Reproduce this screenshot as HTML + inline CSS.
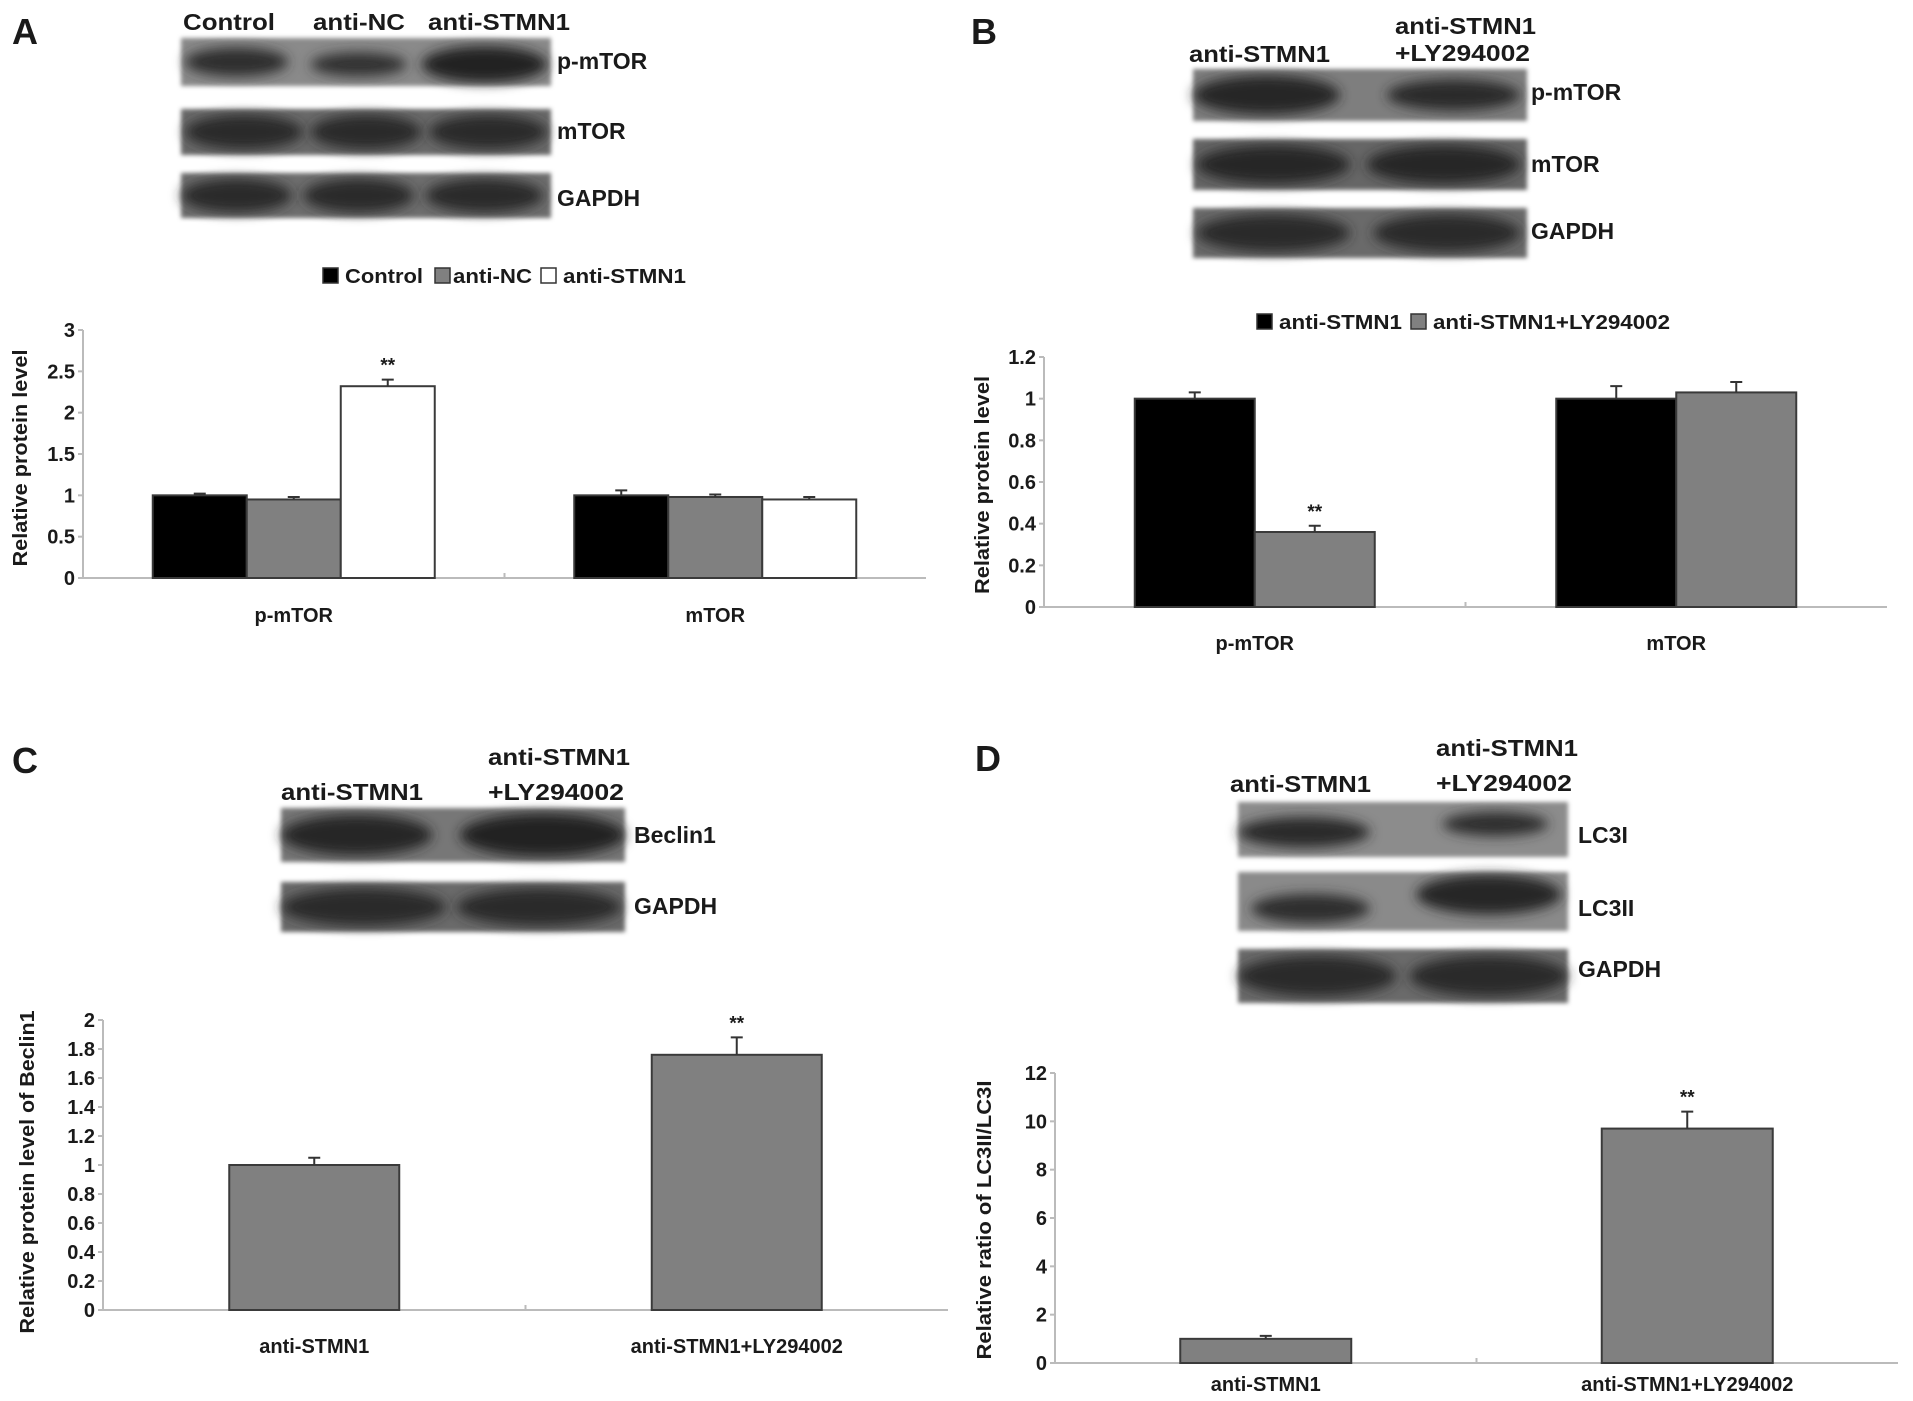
<!DOCTYPE html>
<html><head><meta charset="utf-8">
<style>
html,body{margin:0;padding:0;background:#fff;overflow:hidden;}
svg{display:block;font-family:"Liberation Sans",Arial,sans-serif;font-weight:bold;}
</style></head>
<body>
<svg id="fig" width="1913" height="1401" viewBox="0 0 1913 1401" xmlns="http://www.w3.org/2000/svg">
<defs>
<filter id="blur6" x="-20%" y="-50%" width="140%" height="200%"><feGaussianBlur stdDeviation="6"/></filter>
<filter id="blur2"><feGaussianBlur stdDeviation="2"/></filter>
</defs>
</svg>
<script>
// ---------- Chart data ----------
const catsA = ["p-mTOR", "mTOR"];
const seriesA = ["Control", "anti-NC", "anti-STMN1"];
const valsA = [[1.0, 1.0], [0.95, 0.98], [2.32, 0.95]];
const errA = [[0.02, 0.06], [0.03, 0.03], [0.08, 0.03]];
const ticksA = ["0", "0.5", "1", "1.5", "2", "2.5", "3"];
const tickValsA = [0, 0.5, 1, 1.5, 2, 2.5, 3];

const catsB = ["p-mTOR", "mTOR"];
const seriesB = ["anti-STMN1", "anti-STMN1+LY294002"];
const valsB = [[1.0, 1.0], [0.36, 1.03]];
const errB = [[0.03, 0.06], [0.03, 0.05]];
const ticksB = ["0", "0.2", "0.4", "0.6", "0.8", "1", "1.2"];
const tickValsB = [0, 0.2, 0.4, 0.6, 0.8, 1, 1.2];

const catsC = ["anti-STMN1", "anti-STMN1+LY294002"];
const valsC = [1.0, 1.76];
const errC = [0.05, 0.12];
const ticksC = ["0", "0.2", "0.4", "0.6", "0.8", "1", "1.2", "1.4", "1.6", "1.8", "2"];
const tickValsC = [0, 0.2, 0.4, 0.6, 0.8, 1, 1.2, 1.4, 1.6, 1.8, 2];

const catsD = ["anti-STMN1", "anti-STMN1+LY294002"];
const valsD = [1.0, 9.7];
const errD = [0.12, 0.7];
const ticksD = ["0", "2", "4", "6", "8", "10", "12"];
const tickValsD = [0, 2, 4, 6, 8, 10, 12];

const sigA = [[false,false],[false,false],[true,false]];
const sigB = [[false,false],[true,false]];
const sigC = [false, true];
const sigD = [false, true];

// ---------- helpers ----------
const NS = "http://www.w3.org/2000/svg";
const svg = document.getElementById("fig");
function mk(tag, attrs, parent) {
  const e = document.createElementNS(NS, tag);
  for (const k in attrs) e.setAttribute(k, attrs[k]);
  (parent || svg).appendChild(e);
  return e;
}
function txt(s, x, y, size, anchor, parent, len) {
  const a = {x: x, y: y, "font-size": size, "text-anchor": anchor || "start", fill: "#1a1a1a"};
  if (len) { a.textLength = len; a.lengthAdjust = "spacingAndGlyphs"; }
  const t = mk("text", a, parent);
  t.textContent = s;
  return t;
}

// ---------- Blots ----------
function blot(name, x, y, w, h, bg, bands) {
  const g = mk("g", {});
  
  
  mk("rect", {x: x, y: y, width: w, height: h, fill: bg, filter: "url(#blur2)"}, g);
  bands.forEach(b => {
    mk("ellipse", {cx: x + b[0] * w, cy: y + b[1] * h, rx: b[2] * w, ry: b[3] * h, fill: b[4], filter: "url(#blur6)"}, g);
  });
  return g;
}
function label(name, s, x, y, size, anchor, len) {
  const t = txt(s, x, y, size, anchor, null, len);
  
  
  return t;
}

// Panel letters
[["A",12,44],["B",971,44],["C",12,773],["D",975,771]].forEach(p => {
  const t = txt(p[0], p[1], p[2], 36, "start");
  
  
});

// Panel A blots
label('blot-lane-control', "Control", 183, 30, 23, "start", 92);
label('blot-lane-anti-nc', "anti-NC", 313, 30, 23, "start", 92);
label('blot-lane-anti-stmn1', "anti-STMN1", 428, 30, 23, "start", 142);
blot('blot-a-p-mtor', 181, 38, 370, 48, "#8a8a8a", [[0.15,0.5,0.14,0.3,"#2e2e2e"],[0.48,0.55,0.13,0.25,"#303030"],[0.82,0.55,0.17,0.38,"#222"]]);
blot('blot-a-mtor', 181, 109, 370, 46, "#6a6a6a", [[0.17,0.5,0.16,0.38,"#2a2a2a"],[0.5,0.5,0.15,0.38,"#2a2a2a"],[0.83,0.5,0.16,0.38,"#2a2a2a"]]);
blot('blot-a-gapdh', 181, 173, 370, 45, "#6e6e6e", [[0.15,0.5,0.15,0.38,"#2c2c2c"],[0.48,0.5,0.15,0.38,"#2c2c2c"],[0.82,0.5,0.16,0.38,"#2c2c2c"]]);
label('blot-label-p-mtor', "p-mTOR", 557, 69, 23);
label('blot-label-mtor', "mTOR", 557, 139, 23);
label('blot-label-gapdh', "GAPDH", 557, 206, 23);

// Panel B blots
label('blot-lane-anti-stmn1', "anti-STMN1", 1189, 62, 23, "start", 141);
label('blot-lane-ly-line1', "anti-STMN1", 1395, 34, 23, "start", 141);
label('blot-lane-ly-line2', "+LY294002", 1395, 61, 23, "start", 135);
blot('blot-b-p-mtor', 1193, 69, 334, 52, "#7e7e7e", [[0.22,0.5,0.22,0.38,"#262626"],[0.78,0.5,0.2,0.3,"#2a2a2a"]]);
blot('blot-b-mtor', 1193, 139, 334, 51, "#666", [[0.24,0.5,0.23,0.38,"#262626"],[0.75,0.5,0.23,0.38,"#262626"]]);
blot('blot-b-gapdh', 1193, 208, 334, 50, "#6a6a6a", [[0.24,0.5,0.23,0.38,"#2b2b2b"],[0.76,0.5,0.22,0.38,"#2b2b2b"]]);
label('blot-label-p-mtor', "p-mTOR", 1531, 100, 23);
label('blot-label-mtor', "mTOR", 1531, 172, 23);
label('blot-label-gapdh', "GAPDH", 1531, 239, 23);

// Panel C blots
label('blot-lane-anti-stmn1', "anti-STMN1", 281, 800, 23, "start", 142);
label('blot-lane-ly-line1', "anti-STMN1", 488, 765, 23, "start", 142);
label('blot-lane-ly-line2', "+LY294002", 488, 800, 23, "start", 136);
blot('blot-c-beclin1', 281, 808, 344, 54, "#777", [[0.22,0.5,0.22,0.38,"#262626"],[0.76,0.5,0.24,0.4,"#222"]]);
blot('blot-c-gapdh', 281, 882, 344, 50, "#6a6a6a", [[0.24,0.5,0.24,0.38,"#2b2b2b"],[0.75,0.5,0.24,0.38,"#2b2b2b"]]);
label('blot-label-beclin1', "Beclin1", 634, 843, 23);
label('blot-label-gapdh', "GAPDH", 634, 914, 23);

// Panel D blots
label('blot-lane-anti-stmn1', "anti-STMN1", 1230, 792, 23, "start", 141);
label('blot-lane-ly-line1', "anti-STMN1", 1436, 756, 23, "start", 142);
label('blot-lane-ly-line2', "+LY294002", 1436, 791, 23, "start", 136);
blot('blot-d-lc3i', 1238, 802, 330, 55, "#8c8c8c", [[0.2,0.55,0.2,0.28,"#2a2a2a"],[0.78,0.4,0.16,0.22,"#2e2e2e"]]);
blot('blot-d-lc3ii', 1238, 872, 330, 59, "#8a8a8a", [[0.22,0.62,0.18,0.25,"#2e2e2e"],[0.76,0.38,0.22,0.34,"#252525"]]);
blot('blot-d-gapdh', 1238, 949, 330, 54, "#6a6a6a", [[0.24,0.5,0.24,0.38,"#2a2a2a"],[0.76,0.5,0.24,0.38,"#2a2a2a"]]);
label('blot-label-lc3i', "LC3I", 1578, 843, 23);
label('blot-label-lc3ii', "LC3II", 1578, 916, 23);
label('blot-label-gapdh', "GAPDH", 1578, 977, 23);

// ---------- Bar charts ----------
function barChart(cfg) {
  const g = mk("g", {});
  
  
  const yMax = cfg.tickVals[cfg.tickVals.length - 1];
  const yScale = v => cfg.y0 - (v / yMax) * (cfg.y0 - cfg.yTop);
  const nC = cfg.cats.length;
  const catW = (cfg.x1 - cfg.x0) / nC;
  const ya = mk("line", {x1: cfg.x0, y1: cfg.yTop, x2: cfg.x0, y2: cfg.y0, stroke: "#bbb", "stroke-width": 2}, g);
  
  
  const xa = mk("line", {x1: cfg.x0, y1: cfg.y0, x2: cfg.x1, y2: cfg.y0, stroke: "#bbb", "stroke-width": 2}, g);
  
  
  for (let i = 1; i < nC; i++) {
    mk("line", {x1: cfg.x0 + catW * i, y1: cfg.y0, x2: cfg.x0 + catW * i, y2: cfg.y0 - 5, stroke: "#bbb", "stroke-width": 2}, g);
  }
  cfg.tickVals.forEach((v, i) => {
    const y = yScale(v);
    mk("line", {x1: cfg.x0 - 5, y1: y, x2: cfg.x0, y2: y, stroke: "#bbb", "stroke-width": 2}, g);
    const t = txt(cfg.ticks[i], cfg.x0 - 8, y + 7, 20, "end", g);
    
    
  });
  const yt = mk("text", {x: 0, y: 0, "font-size": 20, "text-anchor": "middle", fill: "#1a1a1a",
    transform: "translate(" + cfg.titleX + "," + cfg.titleY + ") rotate(-90)", textLength: cfg.titleLen, lengthAdjust: "spacingAndGlyphs"}, g);
  yt.textContent = cfg.title;
  
  
  const nS = cfg.vals.length;
  const bw = cfg.barW;
  cfg.cats.forEach((c, ci) => {
    const cx = cfg.x0 + catW * (ci + 0.5);
    const start = cx - bw * nS / 2;
    for (let s = 0; s < nS; s++) {
      const v = cfg.vals[s][ci], e = cfg.errs[s][ci];
      const x = start + bw * s;
      const yv = yScale(v);
      const r = mk("rect", {x: x, y: yv, width: bw, height: cfg.y0 - yv, fill: cfg.colors[s], stroke: "#3a3a3a", "stroke-width": 2}, g);
      
      
      const ye = yScale(v + e);
      const bx = x + bw / 2;
      const eb = mk("path", {d: "M" + bx + " " + yv + "V" + ye + "M" + (bx - 6) + " " + ye + "H" + (bx + 6), stroke: "#333", "stroke-width": 2, fill: "none"}, g);
      
      
      if (cfg.sig[s][ci]) {
        const st = txt("**", bx, ye - 8, 19, "middle", g);
        
        
      }
    }
    const xl = txt(c, cx, cfg.xLabelY, 20, "middle", g);
    
    
  });
  return g;
}

barChart({name: "chart-a", cats: catsA, vals: valsA, errs: errA, sig: sigA, ticks: ticksA, tickVals: tickValsA,
  x0: 83, x1: 926, y0: 578, yTop: 330, barW: 94, colors: ["#000", "#808080", "#fff"],
  title: "Relative protein level", titleX: 27, titleY: 458, titleLen: 217, xLabelY: 622});
barChart({name: "chart-b", cats: catsB, vals: valsB, errs: errB, sig: sigB, ticks: ticksB, tickVals: tickValsB,
  x0: 1044, x1: 1887, y0: 607, yTop: 357, barW: 120, colors: ["#000", "#808080"],
  title: "Relative protein level", titleX: 989, titleY: 485, titleLen: 218, xLabelY: 650});
barChart({name: "chart-c", cats: catsC, vals: [valsC], errs: [errC], sig: [sigC], ticks: ticksC, tickVals: tickValsC,
  x0: 103, x1: 948, y0: 1310, yTop: 1020, barW: 170, colors: ["#808080"],
  title: "Relative protein level of Beclin1", titleX: 34, titleY: 1172, titleLen: 323, xLabelY: 1353});
barChart({name: "chart-d", cats: catsD, vals: [valsD], errs: [errD], sig: [sigD], ticks: ticksD, tickVals: tickValsD,
  x0: 1055, x1: 1898, y0: 1363, yTop: 1073, barW: 171, colors: ["#808080"],
  title: "Relative ratio of LC3II/LC3I", titleX: 991, titleY: 1220, titleLen: 279, xLabelY: 1391});

// ---------- Legends ----------
function legend(name, items) {
  const g = mk("g", {});
  
  
  items.forEach(it => {
    const e = mk("g", {}, g);
    
    
    mk("rect", {x: it.bx, y: it.y - 8, width: 15, height: 15, fill: it.c, stroke: "#333", "stroke-width": 1.5}, e);
    txt(it.t, it.tx, it.y + 7, 20, "start", e, it.len);
  });
}
legend('legend-a', [
  {bx: 323, tx: 345, y: 276, c: "#000", t: "Control", len: 78},
  {bx: 435, tx: 453, y: 276, c: "#808080", t: "anti-NC", len: 79},
  {bx: 541, tx: 563, y: 276, c: "#fff", t: "anti-STMN1", len: 123}
]);
legend('legend-b', [
  {bx: 1257, tx: 1279, y: 322, c: "#000", t: "anti-STMN1", len: 123},
  {bx: 1411, tx: 1433, y: 322, c: "#808080", t: "anti-STMN1+LY294002", len: 237}
]);
</script>
</body></html>
